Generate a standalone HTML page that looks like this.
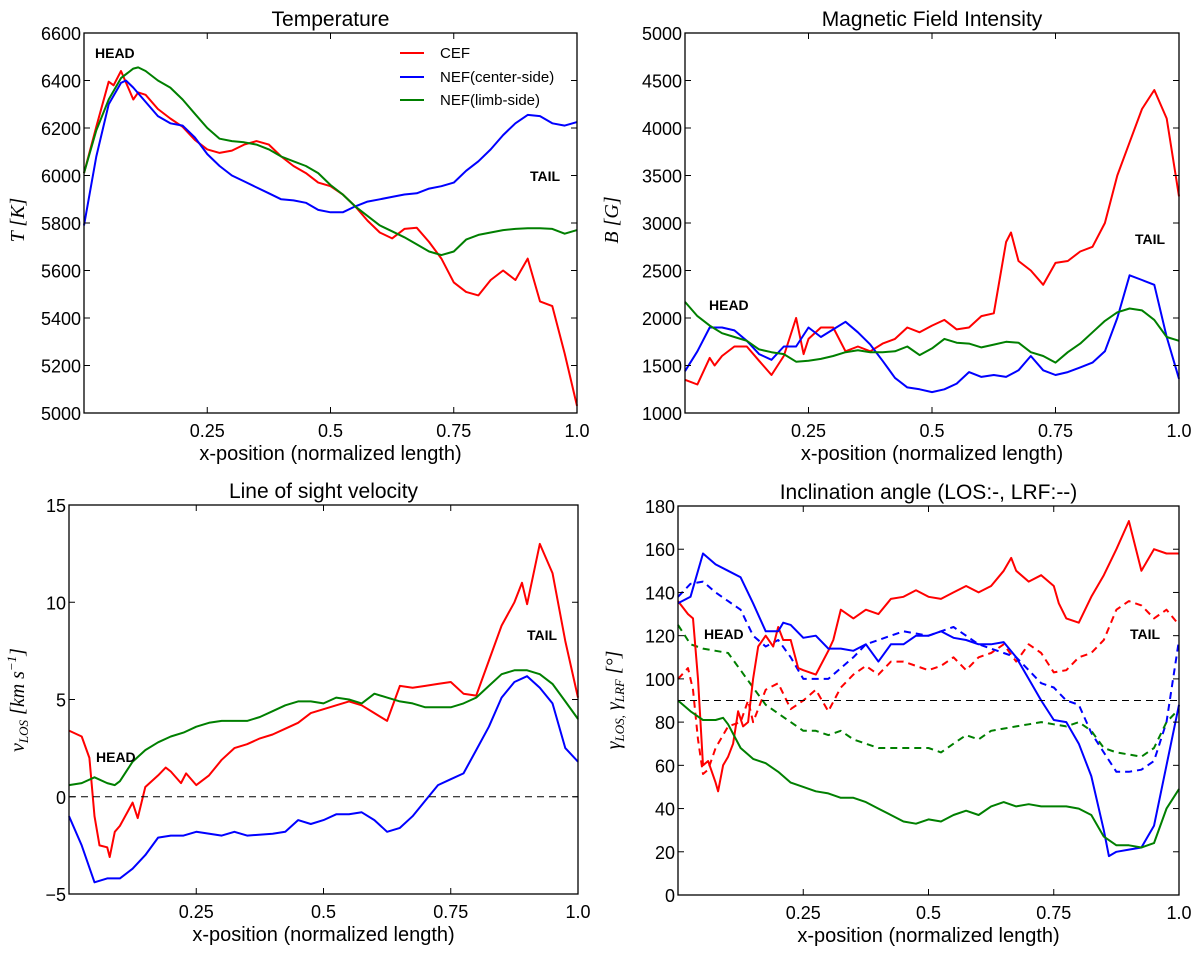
<!DOCTYPE html>
<html><head><meta charset="utf-8"><style>
body{margin:0;background:#fff}
svg text{font-family:"Liberation Sans",sans-serif}
</style></head><body>
<svg id="fig" width="1200" height="954" viewBox="0 0 1200 954" xmlns="http://www.w3.org/2000/svg"></svg>
<script>
// ---------- data ----------
const xTicks=[0.25,0.5,0.75,1.0];
const xTickLabels=["0.25","0.5","0.75","1.0"];
const tTicks=[5000,5200,5400,5600,5800,6000,6200,6400,6600];
const bTicks=[1000,1500,2000,2500,3000,3500,4000,4500,5000];
const vTicks=[-5,0,5,10,15];
const gTicks=[0,20,40,60,80,100,120,140,160,180];

const tCEF=[[0,6010],[0.025,6205],[0.05,6395],[0.06,6380],[0.075,6440],[0.1,6320],[0.11,6350],[0.125,6340],[0.15,6280],[0.175,6240],[0.2,6205],[0.225,6150],[0.25,6110],[0.275,6095],[0.3,6105],[0.325,6130],[0.35,6145],[0.375,6130],[0.4,6080],[0.425,6040],[0.45,6010],[0.475,5970],[0.5,5955],[0.525,5920],[0.55,5870],[0.575,5810],[0.6,5760],[0.625,5735],[0.65,5775],[0.675,5780],[0.7,5720],[0.725,5650],[0.75,5550],[0.775,5510],[0.8,5495],[0.825,5560],[0.85,5600],[0.875,5560],[0.9,5650],[0.925,5470],[0.95,5450],[0.975,5250],[1.0,5030]];
const tNEFc=[[0,5790],[0.025,6080],[0.05,6300],[0.075,6390],[0.085,6400],[0.1,6370],[0.125,6310],[0.15,6250],[0.175,6220],[0.2,6210],[0.225,6160],[0.25,6090],[0.275,6040],[0.3,6000],[0.325,5975],[0.35,5950],[0.375,5925],[0.4,5900],[0.425,5895],[0.45,5885],[0.475,5855],[0.5,5845],[0.525,5845],[0.55,5870],[0.575,5890],[0.6,5900],[0.625,5910],[0.65,5920],[0.675,5925],[0.7,5945],[0.725,5955],[0.75,5970],[0.775,6020],[0.8,6060],[0.825,6110],[0.85,6170],[0.875,6220],[0.9,6255],[0.925,6250],[0.95,6220],[0.975,6210],[1.0,6225]];
const tNEFl=[[0,6010],[0.025,6190],[0.05,6320],[0.075,6410],[0.1,6450],[0.11,6455],[0.125,6440],[0.15,6400],[0.175,6370],[0.2,6320],[0.225,6260],[0.25,6200],[0.275,6155],[0.3,6145],[0.325,6140],[0.35,6130],[0.375,6110],[0.4,6080],[0.425,6060],[0.45,6040],[0.475,6010],[0.5,5960],[0.525,5920],[0.55,5870],[0.575,5830],[0.6,5790],[0.625,5765],[0.65,5740],[0.675,5710],[0.7,5680],[0.725,5665],[0.75,5680],[0.775,5730],[0.8,5750],[0.825,5760],[0.85,5770],[0.875,5775],[0.9,5778],[0.925,5778],[0.95,5775],[0.975,5755],[1.0,5770]];

const bCEF=[[0,1350],[0.025,1300],[0.05,1580],[0.06,1500],[0.075,1600],[0.1,1700],[0.125,1700],[0.15,1550],[0.175,1400],[0.2,1600],[0.225,2000],[0.24,1620],[0.25,1780],[0.275,1900],[0.3,1900],[0.325,1650],[0.35,1700],[0.375,1650],[0.4,1730],[0.425,1780],[0.45,1900],[0.475,1850],[0.5,1920],[0.525,1980],[0.55,1880],[0.575,1900],[0.6,2020],[0.625,2050],[0.65,2800],[0.66,2900],[0.675,2600],[0.7,2500],[0.725,2350],[0.75,2580],[0.775,2600],[0.8,2700],[0.825,2750],[0.85,3000],[0.875,3500],[0.9,3850],[0.925,4200],[0.95,4400],[0.975,4100],[1.0,3280]];
const bNEFc=[[0,1440],[0.025,1650],[0.05,1900],[0.075,1900],[0.1,1870],[0.125,1760],[0.15,1620],[0.175,1560],[0.2,1700],[0.225,1700],[0.25,1900],[0.275,1800],[0.3,1880],[0.325,1960],[0.35,1850],[0.375,1720],[0.4,1550],[0.425,1370],[0.45,1270],[0.475,1250],[0.5,1220],[0.525,1250],[0.55,1310],[0.575,1430],[0.6,1380],[0.625,1400],[0.65,1380],[0.675,1450],[0.7,1600],[0.725,1450],[0.75,1400],[0.775,1430],[0.8,1480],[0.825,1530],[0.85,1650],[0.875,2000],[0.9,2450],[0.925,2400],[0.95,2350],[0.975,1800],[1.0,1360]];
const bNEFl=[[0,2170],[0.025,2020],[0.05,1920],[0.075,1840],[0.1,1800],[0.125,1760],[0.15,1670],[0.175,1640],[0.2,1620],[0.225,1540],[0.25,1550],[0.275,1570],[0.3,1600],[0.325,1640],[0.35,1660],[0.375,1640],[0.4,1640],[0.425,1650],[0.45,1700],[0.475,1610],[0.5,1680],[0.525,1780],[0.55,1740],[0.575,1730],[0.6,1690],[0.625,1720],[0.65,1750],[0.675,1740],[0.7,1640],[0.725,1600],[0.75,1530],[0.775,1640],[0.8,1730],[0.825,1850],[0.85,1970],[0.875,2060],[0.9,2100],[0.925,2080],[0.95,1980],[0.975,1800],[1.0,1760]];

const vCEF=[[0,3.4],[0.025,3.1],[0.04,2.0],[0.05,-1.0],[0.06,-2.5],[0.075,-2.6],[0.08,-3.1],[0.09,-1.8],[0.1,-1.5],[0.125,-0.3],[0.135,-1.1],[0.15,0.5],[0.175,1.1],[0.19,1.5],[0.2,1.3],[0.22,0.7],[0.23,1.2],[0.25,0.6],[0.275,1.1],[0.3,1.9],[0.325,2.5],[0.35,2.7],[0.375,3.0],[0.4,3.2],[0.425,3.5],[0.45,3.8],[0.475,4.3],[0.5,4.5],[0.525,4.7],[0.55,4.9],[0.575,4.7],[0.6,4.3],[0.625,3.9],[0.65,5.7],[0.675,5.6],[0.7,5.7],[0.725,5.8],[0.75,5.9],[0.775,5.3],[0.8,5.2],[0.825,7.0],[0.85,8.8],[0.875,10.0],[0.89,11.0],[0.9,9.9],[0.925,13.0],[0.95,11.5],[0.975,8.0],[1.0,5.1]];
const vNEFc=[[0,-1.0],[0.025,-2.5],[0.05,-4.4],[0.075,-4.2],[0.1,-4.2],[0.125,-3.7],[0.15,-3.0],[0.175,-2.1],[0.2,-2.0],[0.225,-2.0],[0.25,-1.8],[0.3,-2.0],[0.325,-1.8],[0.35,-2.0],[0.4,-1.9],[0.425,-1.8],[0.45,-1.2],[0.475,-1.4],[0.5,-1.2],[0.525,-0.9],[0.55,-0.9],[0.575,-0.8],[0.6,-1.2],[0.625,-1.8],[0.65,-1.6],[0.675,-1.0],[0.7,-0.2],[0.725,0.6],[0.75,0.9],[0.775,1.2],[0.8,2.4],[0.825,3.6],[0.85,5.1],[0.875,5.9],[0.9,6.2],[0.925,5.6],[0.95,4.8],[0.975,2.5],[1.0,1.8]];
const vNEFl=[[0,0.6],[0.025,0.7],[0.05,1.0],[0.075,0.7],[0.09,0.6],[0.1,0.8],[0.125,1.8],[0.15,2.4],[0.175,2.8],[0.2,3.1],[0.225,3.3],[0.25,3.6],[0.275,3.8],[0.3,3.9],[0.325,3.9],[0.35,3.9],[0.375,4.1],[0.4,4.4],[0.425,4.7],[0.45,4.9],[0.475,4.9],[0.5,4.8],[0.525,5.1],[0.55,5.0],[0.575,4.8],[0.6,5.3],[0.625,5.1],[0.65,4.9],[0.675,4.8],[0.7,4.6],[0.725,4.6],[0.75,4.6],[0.775,4.8],[0.8,5.1],[0.825,5.7],[0.85,6.3],[0.875,6.5],[0.9,6.5],[0.925,6.3],[0.95,5.8],[0.975,4.9],[1.0,4.0]];

const gCEFlos=[[0,136],[0.02,130],[0.03,128],[0.04,100],[0.05,60],[0.06,62],[0.075,52],[0.08,48],[0.09,60],[0.1,64],[0.11,70],[0.12,85],[0.13,78],[0.14,80],[0.15,100],[0.16,115],[0.175,120],[0.19,115],[0.2,124],[0.21,118],[0.225,118],[0.24,105],[0.25,104],[0.275,102],[0.3,113],[0.31,118],[0.325,132],[0.35,128],[0.375,132],[0.4,130],[0.425,137],[0.45,138],[0.475,141],[0.5,138],[0.525,137],[0.55,140],[0.575,143],[0.6,140],[0.625,143],[0.65,150],[0.665,156],[0.675,150],[0.7,145],[0.725,148],[0.75,143],[0.76,135],[0.775,128],[0.8,126],[0.825,138],[0.85,148],[0.875,160],[0.9,173],[0.925,150],[0.95,160],[0.975,158],[1.0,158]];
const gNEFcLos=[[0,135],[0.025,138],[0.05,158],[0.075,153],[0.1,150],[0.125,147],[0.15,135],[0.175,122],[0.2,122],[0.21,126],[0.225,125],[0.25,119],[0.275,120],[0.3,114],[0.325,114],[0.35,113],[0.375,116],[0.4,108],[0.425,116],[0.45,116],[0.475,120],[0.5,120],[0.525,122],[0.55,119],[0.575,118],[0.6,116],[0.625,116],[0.65,117],[0.675,110],[0.7,100],[0.725,90],[0.75,81],[0.775,80],[0.8,70],[0.825,55],[0.85,30],[0.86,18],[0.875,20],[0.9,21],[0.925,22],[0.95,32],[0.975,60],[1.0,88]];
const gNEFlLos=[[0,90],[0.025,85],[0.05,81],[0.075,81],[0.09,82],[0.1,79],[0.125,68],[0.15,63],[0.175,61],[0.2,57],[0.225,52],[0.25,50],[0.275,48],[0.3,47],[0.325,45],[0.35,45],[0.375,43],[0.4,40],[0.425,37],[0.45,34],[0.475,33],[0.5,35],[0.525,34],[0.55,37],[0.575,39],[0.6,37],[0.625,41],[0.65,43],[0.675,41],[0.7,42],[0.725,41],[0.75,41],[0.775,41],[0.8,40],[0.825,37],[0.85,27],[0.875,23],[0.9,23],[0.925,22],[0.95,24],[0.975,40],[1.0,49]];
const gCEFlrf=[[0,100],[0.02,105],[0.03,95],[0.04,72],[0.05,56],[0.06,58],[0.075,68],[0.1,78],[0.125,80],[0.14,90],[0.15,80],[0.175,95],[0.2,98],[0.225,86],[0.25,90],[0.275,95],[0.3,85],[0.325,96],[0.35,102],[0.375,106],[0.4,102],[0.425,108],[0.45,108],[0.475,106],[0.5,104],[0.525,106],[0.55,110],[0.575,104],[0.6,110],[0.625,112],[0.65,116],[0.675,108],[0.7,116],[0.725,112],[0.75,103],[0.775,104],[0.8,110],[0.825,112],[0.85,118],[0.875,132],[0.9,136],[0.925,134],[0.95,128],[0.975,132],[1.0,125]];
const gNEFcLrf=[[0,138],[0.025,144],[0.05,145],[0.075,140],[0.1,136],[0.125,132],[0.15,120],[0.175,115],[0.2,118],[0.225,110],[0.25,100],[0.275,100],[0.3,100],[0.325,105],[0.35,110],[0.375,116],[0.4,118],[0.425,120],[0.45,122],[0.475,121],[0.5,120],[0.525,122],[0.55,124],[0.575,120],[0.6,116],[0.625,114],[0.65,112],[0.675,110],[0.7,104],[0.725,98],[0.75,96],[0.775,90],[0.8,88],[0.825,75],[0.85,66],[0.875,57],[0.9,57],[0.925,58],[0.95,62],[0.975,80],[1.0,118]];
const gNEFlLrf=[[0,125],[0.025,116],[0.05,114],[0.075,113],[0.1,112],[0.125,104],[0.15,96],[0.175,88],[0.2,84],[0.225,80],[0.25,76],[0.275,76],[0.3,74],[0.325,76],[0.35,72],[0.375,70],[0.4,68],[0.425,68],[0.45,68],[0.475,68],[0.5,68],[0.525,66],[0.55,70],[0.575,74],[0.6,72],[0.625,76],[0.65,77],[0.675,78],[0.7,79],[0.725,80],[0.75,79],[0.775,78],[0.8,80],[0.825,76],[0.85,68],[0.875,66],[0.9,65],[0.925,64],[0.95,68],[0.975,80],[1.0,86]];

// ---------- drawing ----------
const NS="http://www.w3.org/2000/svg";
const fig=document.getElementById('fig');
function mk(tag,attrs,parent){const e=document.createElementNS(NS,tag);for(const k in attrs)e.setAttribute(k,attrs[k]);(parent||fig).appendChild(e);return e;}
const RED="#ff0000",BLUE="#0000ff",GREEN="#007f00";

function panel(name,box,ymin,ymax,yt,title,series,notes){
  const g=mk('g',{});
  
  
  const X=v=>box.l+(v)*(box.r-box.l);
  const Y=v=>box.b-(v-ymin)/(ymax-ymin)*(box.b-box.t);
  series.forEach(s=>{
    const p=mk('path',{d:s.data.map((d,i)=>(i?'L':'M')+X(d[0]).toFixed(1)+' '+Y(d[1]).toFixed(1)).join(' '),fill:'none',stroke:s.c,'stroke-width':2,'stroke-dasharray':s.dash||'none','stroke-linejoin':'round'},g);
    
    
  });
  const fr=mk('rect',{x:box.l,y:box.t,width:box.r-box.l,height:box.b-box.t,fill:'none',stroke:'#000','stroke-width':1.3},g);
  
  
  xTicks.forEach((v,i)=>{
    mk('line',{x1:X(v),x2:X(v),y1:box.b,y2:box.b-6,stroke:'#000'},g);
    mk('line',{x1:X(v),x2:X(v),y1:box.t,y2:box.t+6,stroke:'#000'},g);
    const t=mk('text',{x:X(v),y:box.b+24,'text-anchor':'middle','font-size':18},g);
    t.textContent=xTickLabels[i];
    
    
  });
  yt.forEach(v=>{
    mk('line',{x1:box.l,x2:box.l+6,y1:Y(v),y2:Y(v),stroke:'#000'},g);
    mk('line',{x1:box.r,x2:box.r-6,y1:Y(v),y2:Y(v),stroke:'#000'},g);
    const t=mk('text',{x:box.l-3,y:Y(v)+7,'text-anchor':'end','font-size':18},g);
    t.textContent=v<0?'\u2212'+(-v):String(v);
    
    
  });
  const tt=mk('text',{x:(box.l+box.r)/2,y:box.t-7,'text-anchor':'middle','font-size':21},g);
  tt.textContent=title;
  
  
  const xl=mk('text',{x:(box.l+box.r)/2,y:box.b+47,'text-anchor':'middle','font-size':20},g);
  xl.textContent='x-position (normalized length)';
  
  
  notes.forEach(n=>{
    const t=mk('text',{x:n[1],y:n[2],'font-size':14,'font-weight':'bold'},g);
    t.textContent=n[0];
    
    
  });
  return {g,X,Y};
}
function ylabel(txt,x,y){
  const t=mk('text',{transform:`translate(${x},${y}) rotate(-90)`,'text-anchor':'middle','font-size':20,style:'font-family:"Liberation Serif",serif;font-style:italic'});
  t.innerHTML=txt;
  
  
}

const p1=panel('temperature-panel',{l:84,r:577,t:33,b:413},5000,6600,tTicks,'Temperature',
 [{n:'temp-cef',c:RED,data:tCEF},{n:'temp-nef-center',c:BLUE,data:tNEFc},{n:'temp-nef-limb',c:GREEN,data:tNEFl}],
 [['HEAD',95,58],['TAIL',530,181]]);
ylabel('T [K]',24,220);
[['CEF',RED,58],['NEF(center-side)',BLUE,82],['NEF(limb-side)',GREEN,105]].forEach(l=>{
  const lg=mk('g',{});
  
  
  mk('line',{x1:400,x2:424,y1:l[2]-5,y2:l[2]-5,stroke:l[1],'stroke-width':2},lg);
  const t=mk('text',{x:440,y:l[2],'font-size':15},lg);t.textContent=l[0];
});

const p2=panel('magnetic-field-panel',{l:685,r:1179,t:33,b:413},1000,5000,bTicks,'Magnetic Field Intensity',
 [{n:'b-cef',c:RED,data:bCEF},{n:'b-nef-center',c:BLUE,data:bNEFc},{n:'b-nef-limb',c:GREEN,data:bNEFl}],
 [['HEAD',709,310],['TAIL',1135,244]]);
ylabel('B [G]',618,220);

const p3=panel('velocity-panel',{l:69,r:578,t:505,b:894},-5,15,vTicks,'Line of sight velocity',
 [{n:'v-cef',c:RED,data:vCEF},{n:'v-nef-center',c:BLUE,data:vNEFc},{n:'v-nef-limb',c:GREEN,data:vNEFl}],
 [['HEAD',96,762],['TAIL',527,640]]);
{const z=mk('line',{x1:69,x2:578,y1:p3.Y(0),y2:p3.Y(0),stroke:'#000','stroke-dasharray':'7,5'});
 }
ylabel('v<tspan font-size="13" dy="4">LOS</tspan><tspan dy="-4"> [km s</tspan><tspan font-size="13" dy="-8">−1</tspan><tspan dy="8">]</tspan>',24,700);

const p4=panel('inclination-panel',{l:678,r:1179,t:506,b:895},0,180,gTicks,'Inclination angle (LOS:-, LRF:--)',
 [{n:'g-cef-lrf',c:RED,dash:'7,5',data:gCEFlrf},{n:'g-nef-center-lrf',c:BLUE,dash:'7,5',data:gNEFcLrf},{n:'g-nef-limb-lrf',c:GREEN,dash:'7,5',data:gNEFlLrf},
  {n:'g-cef-los',c:RED,data:gCEFlos},{n:'g-nef-center-los',c:BLUE,data:gNEFcLos},{n:'g-nef-limb-los',c:GREEN,data:gNEFlLos}],
 [['HEAD',704,639],['TAIL',1130,639]]);
{const z=mk('line',{x1:678,x2:1179,y1:p4.Y(90),y2:p4.Y(90),stroke:'#000','stroke-dasharray':'7,5'});
 }
ylabel('γ<tspan font-size="13" dy="4">LOS,</tspan><tspan dy="-4"> γ</tspan><tspan font-size="13" dy="4">LRF</tspan><tspan dy="-4">  [°]</tspan>',620,700);
</script>
</body></html>
